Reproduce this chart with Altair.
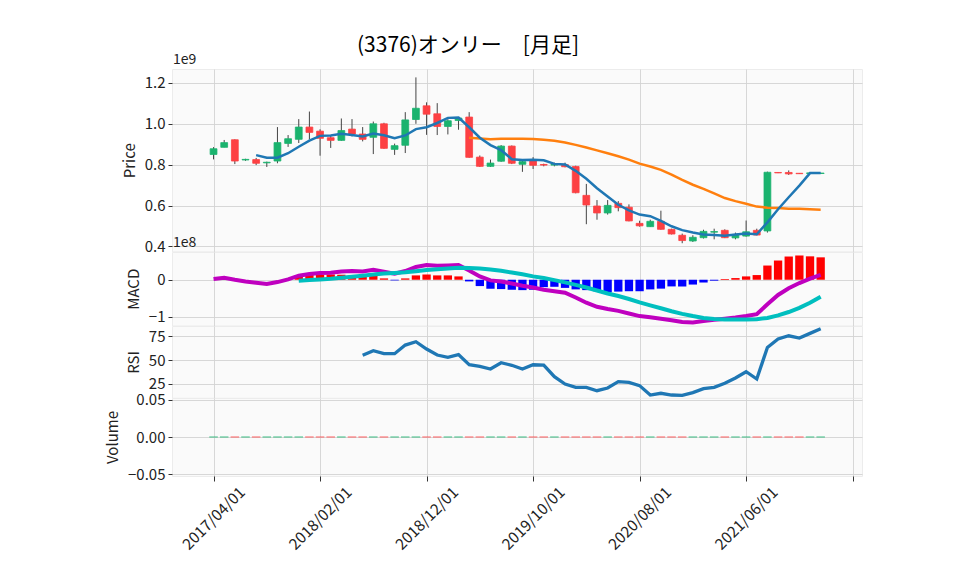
import altair as alt
import pandas as pd

# ---------------- data ----------------
title_text = "(3376)オンリー　[月足]"
price_offset_label = ["1e9"]
macd_offset_label = ["1e8"]
tick_pos = [0, 10, 20, 30, 40, 50, 60]
tick_labels = ["2017/04/01", "2018/02/01", "2018/12/01", "2019/10/01",
               "2020/08/01", "2021/06/01", ""]

# monthly candles, price in units of 1e9 (index 0 = 2017/04)
opens = [0.850, 0.885, 0.922, 0.823, 0.825, 0.809, 0.818, 0.904, 0.924, 0.984,
         0.964, 0.932, 0.919, 0.974, 0.950, 0.934, 1.000, 0.875, 0.895, 1.021,
         1.088, 1.049, 0.987, 1.016, 1.033, 0.837, 0.792, 0.817, 0.891, 0.802,
         0.823, 0.801, 0.798, 0.800, 0.791, 0.650, 0.598, 0.564, 0.611, 0.592,
         0.513, 0.497, 0.523, 0.484, 0.455, 0.427, 0.443, 0.470, 0.479, 0.442,
         0.451, 0.479, 0.476, 0.762, 0.762, 0.758, 0.757, 0.757]
highs = [0.886, 0.921, 0.924, 0.829, 0.833, 0.815, 0.984, 0.945, 1.023, 1.060,
         0.973, 0.943, 1.026, 1.023, 0.984, 1.011, 1.005, 0.903, 1.057, 1.227,
         1.105, 1.101, 1.023, 1.030, 1.057, 0.845, 0.825, 0.896, 0.894, 0.822,
         0.837, 0.805, 0.810, 0.810, 0.795, 0.706, 0.627, 0.627, 0.622, 0.606,
         0.526, 0.531, 0.575, 0.487, 0.463, 0.455, 0.482, 0.487, 0.484, 0.468,
         0.527, 0.487, 0.766, 0.763, 0.772, 0.759, 0.761, 0.760]
lows = [0.826, 0.885, 0.803, 0.819, 0.798, 0.789, 0.807, 0.887, 0.906, 0.924,
        0.844, 0.882, 0.917, 0.938, 0.914, 0.852, 0.878, 0.848, 0.857, 1.000,
        0.946, 0.945, 0.948, 0.971, 0.834, 0.789, 0.789, 0.814, 0.803, 0.765,
        0.779, 0.792, 0.792, 0.787, 0.660, 0.509, 0.531, 0.556, 0.572, 0.523,
        0.497, 0.496, 0.482, 0.459, 0.416, 0.422, 0.439, 0.435, 0.441, 0.435,
        0.448, 0.455, 0.468, 0.759, 0.750, 0.755, 0.756, 0.756]
closes = [0.878, 0.908, 0.818, 0.826, 0.807, 0.812, 0.908, 0.927, 0.984, 0.958,
          0.929, 0.919, 0.967, 0.950, 0.924, 1.000, 0.880, 0.893, 1.019, 1.076,
          1.047, 0.987, 1.015, 1.028, 0.836, 0.792, 0.808, 0.891, 0.807, 0.815,
          0.797, 0.798, 0.803, 0.790, 0.663, 0.603, 0.564, 0.601, 0.590, 0.525,
          0.501, 0.523, 0.484, 0.461, 0.429, 0.445, 0.474, 0.473, 0.443, 0.458,
          0.472, 0.456, 0.763, 0.760, 0.755, 0.756, 0.760, 0.759]
volumes = [0, 0, 0, 0, 0, 0, 0, 0, 0, 0, 0, 0, 0, 0, 0, 0, 0, 0, 0, 0,
           0, 0, 0, 0, 0, 0, 0, 0, 0, 0, 0, 0, 0, 0, 0, 0, 0, 0, 0, 0,
           0, 0, 0, 0, 0, 0, 0, 0, 0, 0, 0, 0, 0, 0, 0, 0, 0, 0]

# short moving average (from index 4) and long moving average (from index 24)
ma5 = [0.847, 0.834, 0.834, 0.856, 0.888, 0.918, 0.941, 0.943, 0.951, 0.945,
       0.938, 0.952, 0.944, 0.929, 0.943, 0.974, 0.983, 1.004, 1.029, 1.031,
       0.983, 0.932, 0.896, 0.871, 0.827, 0.823, 0.824, 0.822, 0.804, 0.801,
       0.770, 0.731, 0.685, 0.644, 0.604, 0.577, 0.556, 0.548, 0.525, 0.499,
       0.480, 0.468, 0.459, 0.456, 0.453, 0.459, 0.464, 0.460, 0.518, 0.582,
       0.641, 0.698, 0.759, 0.759]
ma25 = [0.932, 0.928, 0.924, 0.927, 0.927, 0.927, 0.926, 0.922, 0.917, 0.909,
        0.897, 0.884, 0.870, 0.856, 0.841, 0.825, 0.805, 0.791, 0.775, 0.752,
        0.726, 0.702, 0.682, 0.660, 0.637, 0.622, 0.609, 0.595, 0.590, 0.588,
        0.585, 0.584, 0.582, 0.580]

# MACD panel, units of 1e8
macd = [0.018, 0.054, 0.000, -0.045, -0.081, -0.117, -0.063, 0.009, 0.108, 0.153,
        0.180, 0.189, 0.225, 0.234, 0.225, 0.270, 0.216, 0.162, 0.234, 0.342,
        0.396, 0.378, 0.387, 0.396, 0.252, 0.090, -0.018, -0.050, -0.100, -0.160,
        -0.210, -0.270, -0.310, -0.350, -0.480, -0.620, -0.730, -0.790, -0.840, -0.910,
        -0.980, -1.010, -1.050, -1.090, -1.140, -1.150, -1.110, -1.080, -1.050, -1.020,
        -0.980, -0.930, -0.660, -0.410, -0.230, -0.090, 0.030, 0.130]
signal = [-0.027, -0.009, 0.009, 0.027, 0.054, 0.081, 0.110, 0.140, 0.165, 0.180,
          0.200, 0.230, 0.260, 0.285, 0.305, 0.320, 0.315, 0.300, 0.275, 0.240,
          0.195, 0.150, 0.090, 0.045, -0.010, -0.070, -0.140, -0.210, -0.290, -0.370,
          -0.440, -0.520, -0.610, -0.690, -0.770, -0.850, -0.920, -0.980, -1.030, -1.060,
          -1.070, -1.075, -1.075, -1.065, -1.030, -0.960, -0.870, -0.760, -0.620, -0.460]
hist = [0.120, 0.126, 0.135, 0.144, 0.135, 0.108, 0.081, 0.108, 0.036, -0.018,
        0.036, 0.117, 0.144, 0.117, 0.117, 0.090, -0.045, -0.171, -0.243, -0.252,
        -0.270, -0.280, -0.270, -0.200, -0.190, -0.220, -0.260, -0.280, -0.310, -0.340,
        -0.320, -0.310, -0.310, -0.260, -0.240, -0.180, -0.180, -0.130, -0.075, -0.025,
        0.020, 0.045, 0.090, 0.126, 0.383, 0.518, 0.626, 0.654, 0.631, 0.604]

# RSI (from index 14)
rsi = [54.9, 59.7, 56.6, 56.6, 65.6, 69.1, 61.5, 55.2, 52.8, 55.6,
       45.1, 43.4, 40.6, 47.2, 44.5, 40.6, 45.1, 44.8, 32.6, 25.0,
       21.5, 21.5, 18.0, 20.8, 27.4, 26.7, 23.3, 13.5, 15.3, 13.5,
       13.2, 16.0, 20.1, 21.5, 25.7, 31.3, 37.8, 30.2, 63.2, 71.9,
       75.3, 72.9, 77.8, 82.6]

# ---------------- frames ----------------
n = len(opens)
candles = pd.DataFrame({"i": list(range(n)), "open": opens, "high": highs,
                        "low": lows, "close": closes, "volume": volumes})
ma5_df = pd.DataFrame({"i": list(range(n - len(ma5), n)), "v": ma5})
ma25_df = pd.DataFrame({"i": list(range(n - len(ma25), n)), "v": ma25})
macd_df = pd.DataFrame({"i": list(range(n - len(macd), n)), "v": macd})
sig_df = pd.DataFrame({"i": list(range(n - len(signal), n)), "v": signal})
hist_df = pd.DataFrame({"i": list(range(n - len(hist), n)), "h": hist})
rsi_df = pd.DataFrame({"i": list(range(n - len(rsi), n)), "v": rsi})

UP = "#1ab36e"
DOWN = "#fd4043"
FONT = "Noto Sans CJK JP"
W = 690

xs = alt.Scale(domain=[-3.9, 60.88], nice=False, zero=False)
ax_hidden = alt.Axis(values=tick_pos, grid=True, labels=False, ticks=False,
                     domain=False, title=None, maxExtent=0, minExtent=0)
label_js = "[" + ",".join("'" + t + "'" for t in tick_labels) + "][round(datum.value / 10)]"
ax_bottom = alt.Axis(values=tick_pos, labelExpr=label_js, grid=True, domain=False,
                     ticks=True, tickSize=5, labelAngle=315, labelAlign="center",
                     labelBaseline="middle", labelPadding=37, labelFlush=False,
                     labelOverlap=False, labelFontSize=15.5, title=None)


def xq(field, axis=ax_hidden):
    return alt.X(field, type="quantitative", scale=xs, axis=axis)


up_cond = alt.datum.close >= alt.datum.open

# ---------------- price panel ----------------
ys_p = alt.Scale(domain=[0.376, 1.268], nice=False, zero=False)
ax_p = alt.Axis(values=[0.4, 0.6, 0.8, 1.0, 1.2], format=".1f", title="Price")


def yp(field):
    return alt.Y(field, type="quantitative", scale=ys_p, axis=ax_p)


cbase = alt.Chart(candles)
wick = cbase.mark_rule(color="#444444", strokeWidth=1).encode(
    x=xq("i"), y=yp("low"), y2=alt.Y2("high"))
body = cbase.transform_calculate(
    x0="datum.i - 0.32", x1="datum.i + 0.32"
).mark_bar(strokeWidth=0.8).encode(
    x=xq("x0"), x2=alt.X2("x1"), y=yp("open"), y2=alt.Y2("close"),
    color=alt.condition(up_cond, alt.value(UP), alt.value(DOWN)),
    stroke=alt.condition(up_cond, alt.value(UP), alt.value(DOWN)))
ma25_line = alt.Chart(ma25_df).mark_line(color="#ff7f0e", strokeWidth=2.5).encode(
    x=xq("i"), y=yp("v"))
ma5_line = alt.Chart(ma5_df).mark_line(color="#1f77b4", strokeWidth=2.5).encode(
    x=xq("i"), y=yp("v"))
off9 = alt.Chart(pd.DataFrame({"t": price_offset_label})).mark_text(
    font=FONT, fontSize=14, align="left", baseline="middle", color="#222"
).encode(text="t:N", x=alt.value(1), y=alt.value(-9))
title_mark = alt.Chart(pd.DataFrame({"t": [title_text]})).mark_text(
    font=FONT, fontSize=21, align="center", baseline="middle", color="#000"
).encode(text="t:N", x=alt.value(296), y=alt.value(-23.5))
price = alt.layer(wick, body, ma25_line, ma5_line, off9, title_mark).properties(
    width=W, height=182.4)

# ---------------- MACD panel ----------------
ys_m = alt.Scale(domain=[-1.234, 0.748], nice=False, zero=False)
ax_m = alt.Axis(values=[-1, 0], format="d", title="MACD")


def ym(field):
    return alt.Y(field, type="quantitative", scale=ys_m, axis=ax_m)


hist_bar = alt.Chart(hist_df).transform_calculate(
    x0="datum.i - 0.39", x1="datum.i + 0.39", z="0"
).mark_bar().encode(
    x=xq("x0"), x2=alt.X2("x1"), y=ym("h"), y2=alt.Y2("z:Q"),
    color=alt.condition(alt.datum.h >= 0, alt.value("#ff0000"), alt.value("#0000ff")))
macd_line = alt.Chart(macd_df).mark_line(color="#bf00bf", strokeWidth=4).encode(
    x=xq("i"), y=ym("v"))
sig_line = alt.Chart(sig_df).mark_line(color="#00bfbf", strokeWidth=4).encode(
    x=xq("i"), y=ym("v"))
off8 = alt.Chart(pd.DataFrame({"t": macd_offset_label})).mark_text(
    font=FONT, fontSize=14, align="left", baseline="middle", color="#222"
).encode(text="t:N", x=alt.value(1), y=alt.value(-9))
macd_panel = alt.layer(hist_bar, macd_line, sig_line, off8).properties(
    width=W, height=73.5)

# ---------------- RSI panel ----------------
ys_r = alt.Scale(domain=[10.6, 85.5], nice=False, zero=False)
ax_r = alt.Axis(values=[25, 50, 75], format="d", title="RSI")
rsi_panel = alt.Chart(rsi_df).mark_line(color="#1f77b4", strokeWidth=3.3).encode(
    x=xq("i"), y=alt.Y("v", type="quantitative", scale=ys_r, axis=ax_r)
).properties(width=W, height=71.8)

# ---------------- Volume panel ----------------
ys_v = alt.Scale(domain=[-0.0527, 0.0527], nice=False, zero=False)
ax_v = alt.Axis(values=[-0.05, 0, 0.05], format=".2f", title="Volume")
vol_panel = cbase.transform_calculate(
    x0="datum.i - 0.4", x1="datum.i + 0.4"
).mark_rule(strokeWidth=1.2, opacity=0.7).encode(
    x=xq("x0", ax_bottom), x2=alt.X2("x1"),
    y=alt.Y("volume", type="quantitative", scale=ys_v, axis=ax_v),
    color=alt.condition(up_cond, alt.value(UP), alt.value(DOWN))
).properties(width=W, height=78)

chart = alt.vconcat(price, macd_panel, rsi_panel, vol_panel, spacing=0,
                    bounds="flush").properties(
    padding={"left": 97, "top": 26, "right": 10, "bottom": 5},
    background="white"
).configure_view(
    fill="#fafafa", stroke="#ececec"
).configure_axis(
    labelFont=FONT, titleFont=FONT, labelFontSize=15, titleFontSize=15,
    titleFontWeight="normal", labelColor="#222", titleColor="#222",
    gridColor="#d3d3d3", gridWidth=0.9, tickColor="#333", tickSize=4,
    domain=False, labelPadding=3, titlePadding=7
)

chart.save("out.html", embed_options={"renderer": "svg", "actions": False})
